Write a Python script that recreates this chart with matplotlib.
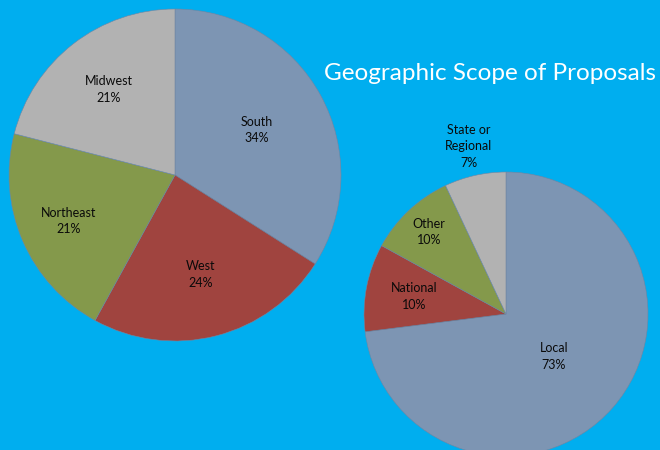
import matplotlib.pyplot as plt
import numpy as np

# region data (clockwise from top)
regions = ["South", "West", "Northeast", "Midwest"]
region_pct = [34, 24, 21, 21]
region_dist = [0.56, 0.62, 0.70, 0.65]

# scope data
scopes = ["Local", "National", "Other", "State or\nRegional"]
scope_pct = [73, 10, 10, 7]
scope_dist = [0.45, 0.66, 0.79, 1.21]

colors = ["#7D95B3", "#A0443F", "#84994B", "#B2B2B2"]
bg = "#00AEEF"
W, H = 660, 450

plt.rcParams['font.family'] = ['Lato', 'DejaVu Sans']

fig = plt.figure(figsize=(6.6, 4.5), dpi=100)
fig.patch.set_facecolor(bg)


def pie_axes(cx, cy, r):
    # pixel centre/radius -> figure fraction axes
    return fig.add_axes([(cx - r) / W, (H - cy - r) / H, 2 * r / W, 2 * r / H])


def draw_pie(ax, names, pct, dist):
    labels = [f"{n}\n{p}%" for n, p in zip(names, pct)]
    wedges, texts = ax.pie(pct, labels=labels, colors=colors, startangle=90,
                           counterclock=False, radius=1,
                           wedgeprops=dict(linewidth=0.4, edgecolor="#6f86a3"),
                           textprops=dict(fontsize=9, color="#0a0a0a"))
    for w, t, d in zip(wedges, texts, dist):
        ang = np.deg2rad((w.theta1 + w.theta2) / 2)
        t.set_position((d * np.cos(ang), d * np.sin(ang)))
        t.set_ha("center")
        t.set_va("center")
        t.set_linespacing(1.45)
    ax.set_xlim(-1, 1)
    ax.set_ylim(-1, 1)
    ax.set_aspect("equal")
    ax.axis("off")


ax1 = pie_axes(175, 175, 166)
draw_pie(ax1, regions, region_pct, region_dist)

ax2 = pie_axes(506, 314, 142)
draw_pie(ax2, scopes, scope_pct, scope_dist)

fig.text(490 / W, 1 - 74 / H, "Geographic Scope of Proposals", color="white",
         fontsize=17.5, ha="center", va="center")

fig.savefig("out.png", dpi=100, facecolor=bg)
